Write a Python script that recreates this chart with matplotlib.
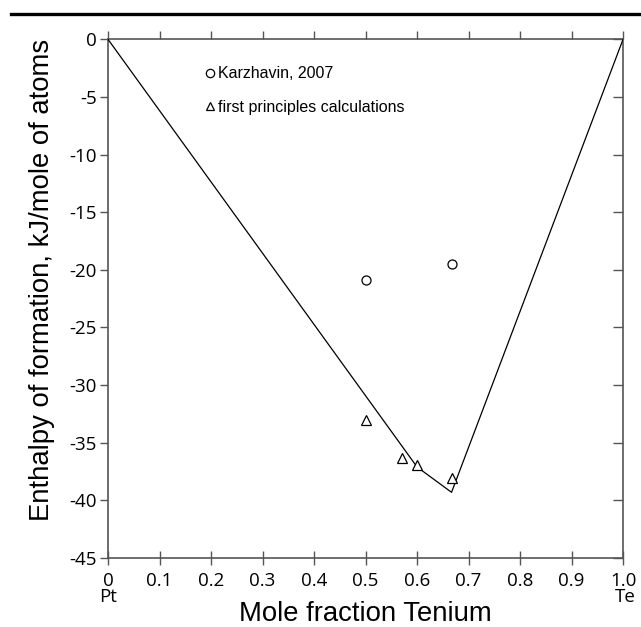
import numpy as np
import matplotlib.pyplot as plt
from matplotlib.lines import Line2D

# Pt-Te enthalpy of formation
hull_x = [0.0, 0.6, 0.667, 1.0]
hull_h = [0.0, -37.1, -39.3, 0.0]

karz_x = [0.5, 0.667]
karz_h = [-20.9, -19.5]

fp_x = [0.5, 0.571, 0.6, 0.667]
fp_h = [-33.0, -36.3, -36.9, -38.1]

xticks = [0, 0.1, 0.2, 0.3, 0.4, 0.5, 0.6, 0.7, 0.8, 0.9, 1.0]
xtick_labels = ['0\nPt', '0.1', '0.2', '0.3', '0.4', '0.5', '0.6', '0.7', '0.8', '0.9', '1.0\nTe']
yticks = [0, -5, -10, -15, -20, -25, -30, -35, -40, -45]

tick_font = 'Open Sans'
label_font = 'Liberation Sans'
spine_col = '#555555'

fig = plt.figure(figsize=(6.41, 6.27), dpi=100)
ax = fig.add_axes([0.1685, 0.110, 0.8035, 0.8273])

ax.plot(hull_x, hull_h, color='black', lw=0.9, zorder=3)
ax.plot(karz_x, karz_h, ls='none', marker='o', ms=6.5, mfc='white', mec='black', mew=0.9, zorder=4)
ax.plot(fp_x, fp_h, ls='none', marker='^', ms=6.5, mfc='white', mec='black', mew=0.9, zorder=4)

ax.set_xlim(0, 1.0)
ax.set_ylim(-45, 0)

for side in ['left', 'right', 'top', 'bottom']:
    ax.spines[side].set_color(spine_col)
    ax.spines[side].set_linewidth(1.2)

ax.set_xticks(xticks)
ax.set_xticklabels(xtick_labels, fontfamily=tick_font, fontsize=13.5, linespacing=0.9)
ax.get_xticklabels()[-1].set_multialignment('right')
ax.set_yticks(yticks)
ax.set_yticklabels([str(v) for v in yticks], fontfamily=tick_font, fontsize=13.5)

ax.tick_params(axis='x', direction='inout', length=9.5, width=1.0, color=spine_col, pad=5)
ax.tick_params(axis='y', direction='out', length=6, width=1.0, color=spine_col, pad=2)

# top ticks point up, right ticks point inward
top = ax.secondary_xaxis('top')
top.set_xticks(xticks)
top.tick_params(direction='out', length=6, width=1.0, color=spine_col, labeltop=False)
top.spines['top'].set_visible(False)
right = ax.secondary_yaxis('right')
right.set_yticks(yticks)
right.tick_params(direction='in', length=7, width=1.0, color=spine_col, labelright=False)
right.spines['right'].set_visible(False)

ax.set_xlabel('Mole fraction Tenium', fontfamily=label_font, fontsize=19.8, labelpad=-4)
ax.set_ylabel('Enthalpy of formation, kJ/mole of atoms', fontfamily=label_font, fontsize=19.8, labelpad=10.5)
ax.yaxis.label.set_y(0.536)

handles = [
    Line2D([], [], ls='none', marker='o', ms=6, mfc='white', mec='black', mew=0.9),
    Line2D([], [], ls='none', marker='^', ms=6, mfc='white', mec='black', mew=0.9),
]
ax.legend(handles, ['Karzhavin, 2007', 'first principles calculations'],
          loc='upper left', bbox_to_anchor=(0.1755, 0.96), frameon=False,
          prop={'family': label_font, 'size': 11.5}, handlelength=0.6,
          handletextpad=0.25, labelspacing=1.15, borderaxespad=0)

# rule across the top of the page
fig.add_artist(Line2D([0.017, 1.0], [1 - 13.5 / 627] * 2, color='black', lw=2.4,
                      transform=fig.transFigure))

fig.savefig('out.png', dpi=100)
